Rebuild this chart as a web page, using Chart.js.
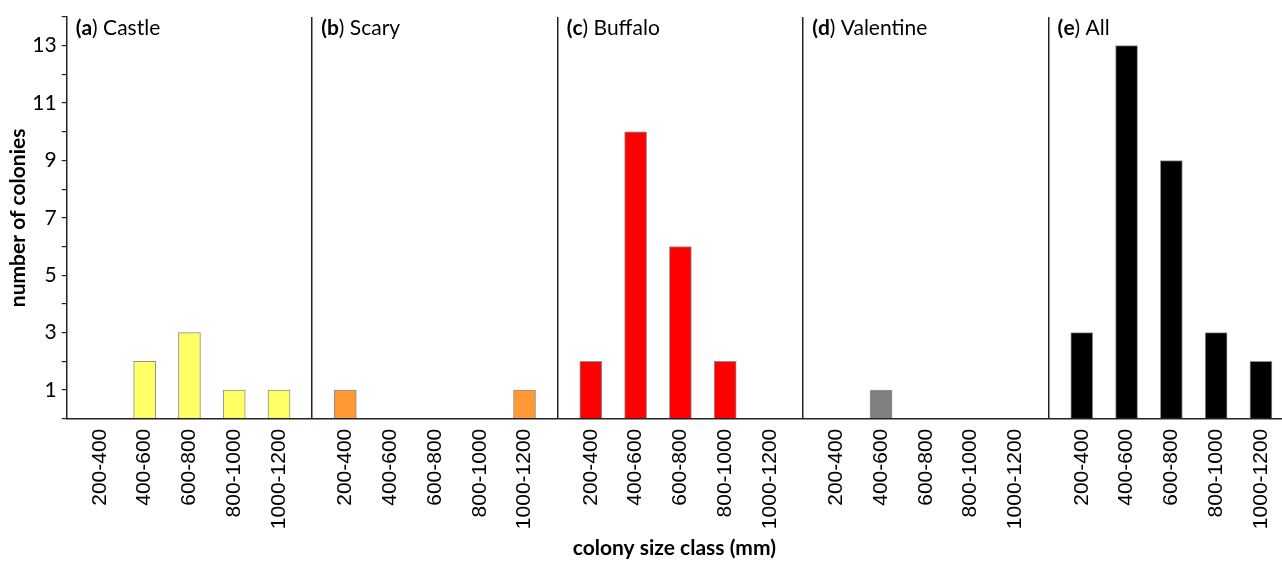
<!DOCTYPE html>
<html>
<head>
<meta charset="utf-8">
<script src="https://cdn.jsdelivr.net/npm/chart.js@4.4.0/dist/chart.umd.min.js"></script>
<style>
  html, body { margin: 0; padding: 0; background: #fff; overflow: hidden; }
  #wrap { width: 1282px; height: 562px; position: relative; }
</style>
</head>
<body>
<div id="wrap"><canvas id="c"></canvas></div>
<script>
// ---- data ----
const sizeClasses = ['200-400', '400-600', '600-800', '800-1000', '1000-1200'];
const panelLetters = ['a', 'b', 'c', 'd', 'e'];
const panelNames = ['Castle', 'Scary', 'Buffalo', 'Valentine', 'All'];
const castle = [0, 2, 3, 1, 1];
const scary = [1, 0, 0, 0, 1];
const buffalo = [2, 10, 6, 2, 0];
const valentine = [0, 1, 0, 0, 0];
const all = [3, 13, 9, 3, 2];
const panelColors = ['#FFFF66', '#FF9933', '#FF0000', '#808080', '#000000'];
const yTicks = [0, 1, 2, 3, 4, 5, 6, 7, 8, 9, 10, 11, 12, 13, 14];

// ---- layout on a linear x axis (panel slots) ----
const PANEL_W = 5.48, PANEL_OFF = 0.74, X_MAX = 27.13;
const series = [castle, scary, buffalo, valentine, all];
const barPos = (p, k) => p * PANEL_W + PANEL_OFF + k;
const sepPos = [1, 2, 3, 4].map(p => p * PANEL_W);
const labelAt = new Map();
series.forEach((s, p) => sizeClasses.forEach((c, k) => labelAt.set(barPos(p, k).toFixed(3), c)));

const datasets = series.map((s, p) => ({
  label: panelNames[p],
  data: s.map((v, k) => ({ x: barPos(p, k), y: v > 0 ? v : null })),
  backgroundColor: panelColors[p],
  borderColor: '#8f8f8f',
  borderWidth: 1,
  barThickness: 22,
  grouped: false
}));

const panelLabels = {
  id: 'panelLabels',
  afterDraw(chart) {
    const { ctx, chartArea, scales } = chart;
    ctx.save();
    ctx.fillStyle = '#000';
    ctx.textBaseline = 'alphabetic';
    panelLetters.forEach((l, p) => {
      let x = scales.x.getPixelForValue(p * PANEL_W) + 9;
      const y = chartArea.top + 18;
      ctx.font = 'bold 21px Lato';
      ctx.fillText('(' , x, y); x += ctx.measureText('(').width;
      ctx.fillText(l, x, y); x += ctx.measureText(l).width;
      ctx.font = '21px Lato';
      ctx.fillText(') ' + panelNames[p], x, y);
    });
    ctx.restore();
  }
};

new Chart(document.getElementById('c'), {
  type: 'bar',
  data: { datasets },
  plugins: [panelLabels],
  options: {
    responsive: true,
    maintainAspectRatio: false,
    animation: false,
    layout: { padding: { top: 17, left: 0, right: 0, bottom: 0 } },
    plugins: { legend: { display: false }, tooltip: { enabled: false } },
    scales: {
      x: {
        type: 'linear',
        offset: false,
        min: 0,
        max: X_MAX,
        afterBuildTicks(scale) {
          const vals = [...sepPos];
          series.forEach((s, p) => sizeClasses.forEach((c, k) => vals.push(barPos(p, k))));
          vals.sort((a, b) => a - b);
          scale.ticks = vals.map(v => ({ value: v }));
        },
        afterFit(scale) {
          scale.height = 143.3;
          scale.paddingLeft = 0;
          scale.paddingRight = 0;
        },
        ticks: {
          autoSkip: false,
          maxRotation: 90,
          minRotation: 90,
          padding: 10,
          color: '#000',
          font: { family: "'Liberation Sans', Arial, sans-serif", size: 21 },
          callback: (v) => labelAt.get(Number(v).toFixed(3)) || ''
        },
        grid: {
          offset: false,
          drawTicks: false,
          lineWidth: 1.5,
          color: (ctx) => (ctx.tick && sepPos.some(s => Math.abs(s - ctx.tick.value) < 1e-6)) ? '#222' : 'rgba(0,0,0,0)'
        },
        border: { display: true, color: '#222', width: 1.5 },
        title: {
          display: true,
          text: 'colony size class (mm)',
          color: '#000',
          font: { family: 'Lato', size: 21, weight: 'bold' },
          padding: { top: 0, bottom: 1 }
        }
      },
      y: {
        min: 0,
        max: 14,
        afterBuildTicks(scale) {
          scale.ticks = yTicks.map(v => ({ value: v }));
        },
        afterFit(scale) {
          scale.width = 66.7;
          scale.paddingTop = 0;
          scale.paddingBottom = 0;
        },
        ticks: {
          autoSkip: false,
          padding: 5,
          color: '#000',
          font: { family: 'Lato', size: 21 },
          callback: (v) => (v % 2 === 1 ? String(v) : '')
        },
        grid: {
          drawOnChartArea: false,
          drawTicks: true,
          tickLength: 5,
          color: '#222',
          lineWidth: 1.2
        },
        border: { display: true, color: '#222', width: 1.5 },
        title: {
          display: true,
          text: 'number of colonies',
          color: '#000',
          font: { family: 'Lato', size: 21, weight: 'bold' },
          padding: { top: 6, bottom: 0 }
        }
      }
    }
  }
});
</script>
</body>
</html>
